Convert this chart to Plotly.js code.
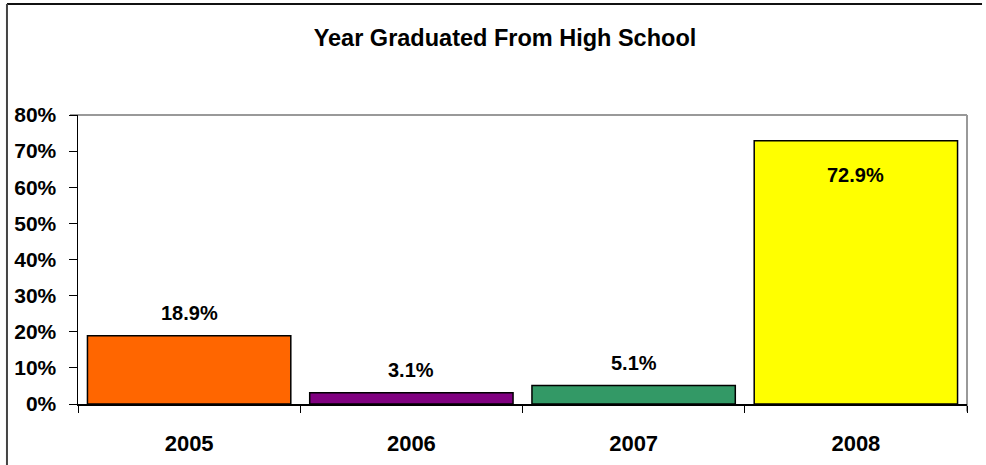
<!DOCTYPE html>
<html>
<head>
<meta charset="utf-8">
<script src="https://cdn.plot.ly/plotly-3.0.1.min.js"></script>
<style>
  html, body { margin: 0; padding: 0; background: #ffffff; }
  #chart { width: 986px; height: 465px; }
</style>
</head>
<body>
<div id="chart"></div>
<script>
const categories = ['2005', '2006', '2007', '2008'];
const percentValues = [18.9, 3.1, 5.1, 72.9];
const barColors = ['#FF6600', '#800080', '#339966', '#FFFF00'];
const yTickValues = [0, 10, 20, 30, 40, 50, 60, 70, 80];
const chartTitle = 'Year Graduated From High School';

const FONT = '"Liberation Sans", Arial, Helvetica, sans-serif';

const trace = {
  type: 'bar',
  x: categories,
  y: percentValues,
  marker: { color: barColors, line: { color: '#000000', width: 1.5 } },
  hoverinfo: 'skip',
  showlegend: false
};

const annotations = categories.map((c, i) => ({
  x: i,
  y: percentValues[i],
  xref: 'x',
  yref: 'y',
  text: '<b>' + percentValues[i].toFixed(1) + '%</b>',
  showarrow: false,
  xanchor: 'center',
  yanchor: 'middle',
  yshift: percentValues[i] > 50 ? -34 : 23,
  font: { family: FONT, size: 20, color: '#000000' }
}));

const shapes = [
  { type: 'line', xref: 'paper', yref: 'paper', x0: -0.009, x1: 1, y0: 1, y1: 1,
    line: { color: '#999999', width: 2 }, layer: 'below' },
  { type: 'line', xref: 'paper', yref: 'paper', x0: 1, x1: 1, y0: -0.026, y1: 1,
    line: { color: '#999999', width: 2 }, layer: 'below' },
  { type: 'line', xref: 'paper', yref: 'paper', x0: -0.0799, x1: 1.0169, y0: 1.384, y1: 1.384,
    line: { color: '#111111', width: 2 } },
  { type: 'line', xref: 'paper', yref: 'paper', x0: -0.0799, x1: -0.0799, y0: 1.384, y1: -0.22,
    line: { color: '#444444', width: 2 } }
];

const layout = {
  width: 986,
  height: 465,
  margin: { l: 78, r: 19, t: 115, b: 61, pad: 0 },
  paper_bgcolor: '#ffffff',
  plot_bgcolor: '#ffffff',
  font: { family: FONT, color: '#000000' },
  title: {
    text: '<b>' + chartTitle + '</b>',
    font: { family: FONT, size: 23.5, color: '#000000' },
    xref: 'paper', x: 0.4803, xanchor: 'center',
    yref: 'container', y: 0.918, yanchor: 'middle'
  },
  bargap: 0.085,
  xaxis: {
    type: 'category',
    range: [-0.5, categories.length - 0.5],
    autorange: false,
    showline: true, linecolor: '#000000', linewidth: 1.5,
    ticks: 'outside', tickson: 'boundaries', ticklen: 7, tickcolor: '#000000', tickwidth: 1,
    ticklabelstandoff: 19,
    tickfont: { family: FONT, size: 22, color: '#000000', weight: 'bold' },
    showgrid: false, zeroline: false, fixedrange: true
  },
  yaxis: {
    range: [0, 80],
    autorange: false,
    tickvals: yTickValues,
    ticktext: yTickValues.map(v => v + '%'),
    showline: true, linecolor: '#000000', linewidth: 1.5,
    ticks: 'outside', ticklen: 8, tickcolor: '#000000', tickwidth: 1,
    ticklabelstandoff: 8,
    tickfont: { family: FONT, size: 21, color: '#000000', weight: 'bold' },
    showgrid: false, zeroline: false, fixedrange: true
  },
  annotations: annotations,
  shapes: shapes
};

Plotly.newPlot('chart', [trace], layout, { displayModeBar: false, staticPlot: true });
</script>
</body>
</html>
